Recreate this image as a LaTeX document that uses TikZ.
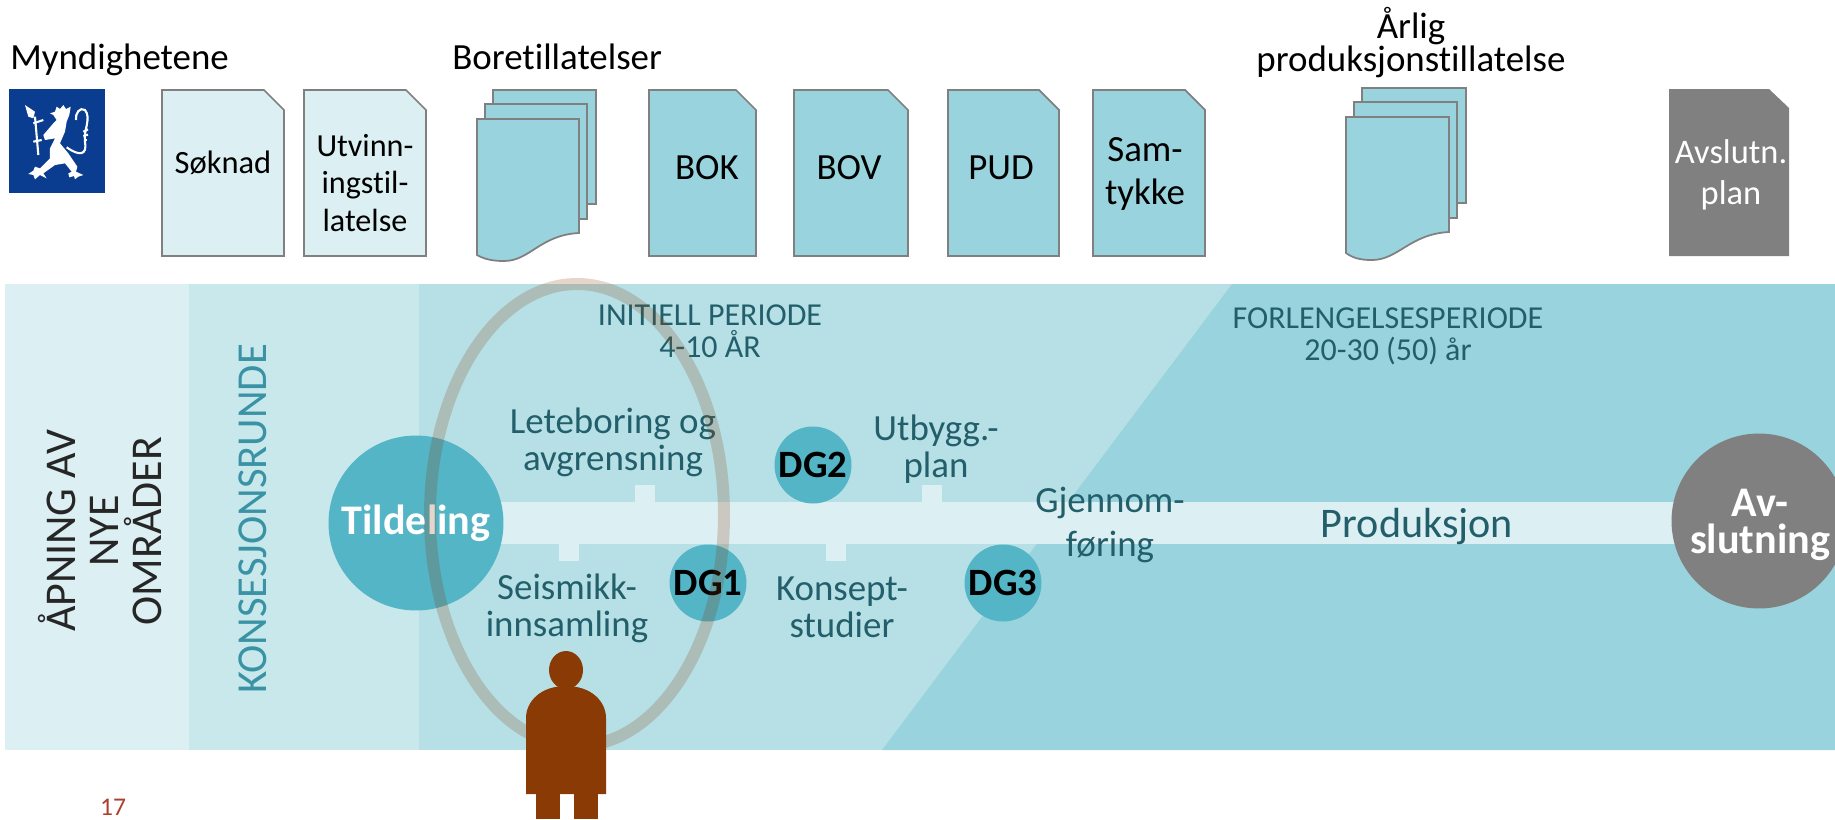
\documentclass[tikz,border=0pt]{standalone}
\usepackage{fontspec}
\usepackage{tikz}
\setmainfont[Ligatures = NoCommon]{Carlito}
\definecolor{palest}{HTML}{DCEFF3}
\definecolor{pale}{HTML}{C9E8EC}
\definecolor{middle}{HTML}{B6E0E6}
\definecolor{deep}{HTML}{99D4DE}
\definecolor{round}{HTML}{53B5C6}
\definecolor{darkteal}{HTML}{225F6B}
\definecolor{midteal}{HTML}{3A93A5}
\definecolor{rust}{HTML}{8A3A05}
\definecolor{crest}{HTML}{0A3D8F}
\definecolor{pagenumber}{HTML}{AE3F2D}
\tikzstyle{palesheet} = [draw = gray, fill = palest, line width = 1pt]
\tikzstyle{deepsheet} = [draw = gray, fill = deep, line width = 1pt]
\tikzstyle{sheettext} = [align = center, inner sep = 0pt, font = \fontsize{21}{22}\selectfont]
\tikzstyle{heading} = [align = center, inner sep = 0pt, font = \fontsize{21}{18.8}\selectfont]
\tikzstyle{phase} = [align = center, inner sep = 0pt, text = darkteal, font = \fontsize{21}{21}\selectfont]
\tikzstyle{period} = [align = center, inner sep = 0pt, text = darkteal, font = \fontsize{18.2}{18.2}\selectfont]
\tikzstyle{gate} = [circle, fill = round, inner sep = 0pt, minimum size = 1.54cm, font = \fontsize{22}{22}\selectfont\bfseries]
\tikzstyle{mainstop} = [circle, inner sep = 0pt, minimum size = 3.5cm, text = white, align = center, font = \fontsize{24}{21}\selectfont\bfseries]
\tikzstyle{sideways} = [rotate = 90, align = center, inner sep = 0pt, font = \fontsize{25}{24.5}\selectfont]

\begin{document}
\begin{tikzpicture}[x = 0.02cm, y = -0.02cm]
    \clip (0, 0) rectangle (1835, 819);

    \fill [palest] (5, 284) rectangle (189, 750);
    \fill [pale] (189, 284) rectangle (419, 750);
    \fill [middle] (419, 284) rectangle (1835, 750);
    \fill [deep] (1232, 284) -- (1835, 284) -- (1835, 750) -- (882, 750) -- cycle;

    \fill [palest] (416, 502) rectangle (1759, 544);
    \fill [palest] (635, 485) rectangle (655, 502);
    \fill [palest] (922, 485) rectangle (942, 502);
    \fill [palest] (559, 544) rectangle (579, 561);
    \fill [palest] (826, 544) rectangle (846, 561);

    \fill [crest] (9, 89) rectangle (105, 193);
    \begin{scope}[shift = {(0, 60)}, x = 0.00667cm, y = -0.00667cm]
        \fill [white] (150, 160) -- (165, 155) -- (170, 140) -- (180, 147) -- (190, 135) -- (198, 147) -- (212, 140) -- (208, 165) -- (200, 185) -- (195, 215) -- (180, 250) -- (205, 280) -- (232, 320) -- (228, 335) -- (250, 345) -- (235, 350) -- (225, 358) -- (222, 348) -- (208, 352) -- (205, 340) -- (215, 335) -- (195, 310) -- (165, 315) -- (130, 340) -- (140, 355) -- (120, 345) -- (105, 358) -- (100, 345) -- (85, 342) -- (100, 332) -- (105, 320) -- (120, 325) -- (150, 295) -- (150, 265) -- (165, 235) -- (135, 240) -- (130, 225) -- (160, 190) -- (170, 180) -- (160, 165) -- cycle;
        \fill [white] (75, 135) -- (105, 155) -- (100, 175) -- (85, 170) -- cycle;
        \draw [white, line width = 1.2pt] (105, 170) -- (115, 285);
        \draw [white, line width = 1.2pt] (100, 190) -- (130, 180);
        \draw [white, line width = 1.2pt] (100, 245) -- (125, 240);
        \draw [white, line width = 1.2pt] (200, 262) .. controls (240, 290) and (262, 285) .. (255, 245) .. controls (250, 210) and (275, 175) .. (255, 150) .. controls (240, 140) and (225, 160) .. (228, 180);
        \draw [white, line width = 1.2pt] (250, 215) -- (264, 208);
        \draw [white, line width = 1.2pt] (250, 228) -- (264, 224);
        \draw [white, line width = 1.2pt] (252, 240) -- (262, 240);
    \end{scope}

    \draw [palesheet] (162, 90) -- (264, 90) -- (284, 110) -- (284, 256) -- (162, 256) -- cycle;
    \draw [palesheet] (304, 90) -- (406, 90) -- (426, 110) -- (426, 256) -- (304, 256) -- cycle;
    \draw [deepsheet] (493, 90) rectangle (596, 204);
    \draw [deepsheet] (485, 104) rectangle (587, 219);
    \draw [deepsheet] (477, 119) -- (579, 119) -- (579, 233) .. controls (540, 235) and (530, 261) .. (504, 261) .. controls (492, 261) and (484, 259) .. (477, 255) -- cycle;
    \draw [deepsheet] (649, 90) -- (736, 90) -- (756, 110) -- (756, 256) -- (649, 256) -- cycle;
    \draw [deepsheet] (794, 90) -- (888, 90) -- (908, 110) -- (908, 256) -- (794, 256) -- cycle;
    \draw [deepsheet] (948, 90) -- (1039, 90) -- (1059, 110) -- (1059, 256) -- (948, 256) -- cycle;
    \draw [deepsheet] (1093, 90) -- (1185, 90) -- (1205, 110) -- (1205, 256) -- (1093, 256) -- cycle;
    \draw [deepsheet] (1362, 88) rectangle (1466, 203);
    \draw [deepsheet] (1354, 102) rectangle (1457, 218);
    \draw [deepsheet] (1346, 117) -- (1449, 117) -- (1449, 232) .. controls (1410, 234) and (1398, 260) .. (1372, 260) .. controls (1360, 260) and (1353, 258) .. (1346, 253) -- cycle;
    \fill [gray] (1669, 89) -- (1769, 89) -- (1789, 108) -- (1789, 256) -- (1669, 256) -- cycle;

    \node (myndigheter) at (10, 69) [heading, anchor = base west] {Myndighetene};
    \node (boretillatelser) at (452, 69) [heading, anchor = base west] {Boretillatelser};
    \node (produksjon) at (1411, 43) [heading] {Årlig\\produksjonstillatelse};
    \node (soknad) at (223, 163) [sheettext, font = \fontsize{18.5}{22}\selectfont] {Søknad};
    \node (utvinning) at (365, 183) [sheettext, font = \fontsize{18.3}{21.3}\selectfont] {Utvinn-\\ingstil-\\latelse};
    \node (bok) at (707, 168) [sheettext] {BOK};
    \node (bov) at (849, 168) [sheettext] {BOV};
    \node (pud) at (1001, 168) [sheettext] {PUD};
    \node (samtykke) at (1145, 174) [sheettext, font = \fontsize{21}{25}\selectfont] {Sam-\\tykke};
    \node (avslutningsplan) at (1731, 175) [sheettext, text = white, font = \fontsize{19.6}{23.3}\selectfont] {Avslutn.\\plan};

    \node (apning) at (100, 531) [sideways, text = black!85] {ÅPNING AV\\NYE\\OMRÅDER};
    \node (konsesjon) at (253, 519) [sideways, text = midteal, font = \fontsize{24.3}{24.5}\selectfont] {KONSESJONSRUNDE};

    \node (tildeling) at (416, 523) [mainstop, fill = round] {Tildeling};
    \node (avslutning) at (1759, 521) [mainstop, fill = gray] {};
    \node (avslutningtekst) at (1760, 525) [mainstop, minimum size = 0pt] {Av-\\slutning};
    \node (dg1) at (708, 583) [gate] {DG1};
    \node (dg2) at (813, 465) [gate] {DG2};
    \node (dg3) at (1003, 583) [gate] {DG3};

    \node (initiell) at (710, 331) [period] {INITIELL PERIODE\\4-10 ÅR};
    \node (forlengelse) at (1388, 336) [period] {FORLENGELSESPERIODE\\20-30 (50) år};
    \node (leteboring) at (613, 442) [phase] {Leteboring og\\avgrensning};
    \node (seismikk) at (567, 608) [phase] {Seismikk-\\innsamling};
    \node (konsept) at (842, 607) [phase] {Konsept-\\studier};
    \node (utbygging) at (936, 449) [phase] {Utbygg.-\\plan};
    \node (gjennomforing) at (1110, 525) [phase, font = \fontsize{21}{25}\selectfont] {Gjennom-\\føring};
    \node (produksjonstekst) at (1417, 526) [phase, font = \fontsize{24}{24}\selectfont] {Produksjon};
    \node (sidetall) at (113, 807) [text = pagenumber, inner sep = 0pt, font = \fontsize{14.5}{14}\selectfont] {17};

    \draw [rust, opacity = 0.21, line width = 0.24cm] (577, 515) ellipse [x radius = 147, y radius = 231];

    \fill [rust] (566, 670) ellipse [x radius = 17, y radius = 19];
    \fill [rust] (526, 794) -- (526, 718) .. controls (526, 702) and (540, 686) .. (566, 686) .. controls (592, 686) and (606, 702) .. (606, 718) -- (606, 794) -- cycle;
    \fill [rust] (536, 794) rectangle (560, 819);
    \fill [rust] (574, 794) rectangle (598, 819);
\end{tikzpicture}
\end{document}
